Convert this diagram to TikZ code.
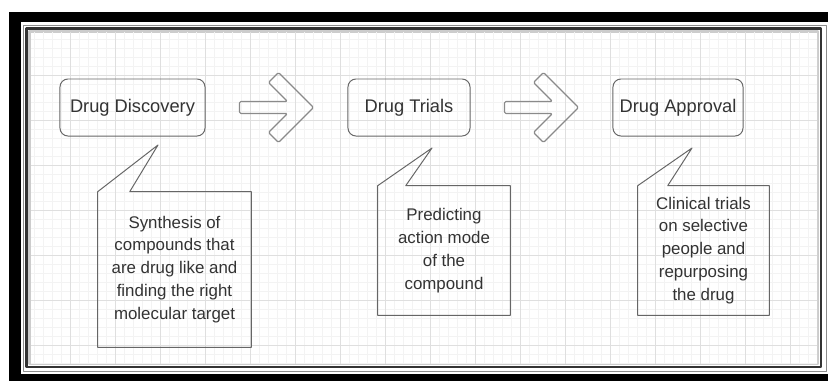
\documentclass[tikz,border=0pt]{standalone}
\usepackage{fontspec}
\setmainfont{Liberation Sans}
\usetikzlibrary{calc}

\definecolor{inkgray}{HTML}{333333}
\definecolor{linegray}{HTML}{666666}
\definecolor{arrowgray}{HTML}{8A8A8A}
\definecolor{minorgray}{HTML}{F3F3F3}
\definecolor{majorgray}{HTML}{DFDFDF}

\begin{document}
\begin{tikzpicture}[x=0.025cm, y=-0.025cm, line join=round,
stage/.style={draw=linegray, line width=0.7pt, rounded corners=0.2cm, minimum height=1.425cm, text=inkgray, font=\fontsize{13}{16.3}\selectfont, inner sep=0pt},
note/.style={align=center, text=inkgray, font=\fontsize{12}{16.3}\selectfont, inner sep=0pt},
notebox/.style={draw=linegray, line width=0.7pt},
chevronline/.style={draw=arrowgray, line width=0.8pt, rounded corners=1pt},
pics/chevron/.style={code={
    \draw[chevronline] (11,-6) -- (-8,-25) -- (2,-35) -- (37,0) -- (2,35) -- (-8,25) -- (11,6) -- (-37,6) -- (-37,-6) -- cycle;
}}]
    % frame
    \clip (0,0) rectangle (828,381);
    \fill[white] (0,0) rectangle (828,381);
    \fill[black] (9,12) rectangle (850,400);
    \fill[white] (21,22) rectangle (830,374);
    \draw[black!45, line width=0.6pt] (23.5,25) rectangle (826,371.5);
    \draw[inkgray, line width=1.8pt] (26.5,28.5) rectangle (821,367);
    \draw[black!20, line width=1.5pt] (29.5,31.5) rectangle (818,364);
    \begin{scope}
        \clip (31,33) rectangle (817,363);
        \draw[minorgray, step=0.225cm, shift={(25,30)}] (-9,-9) grid (801,342);
        \draw[majorgray, step=1.125cm, shift={(25,30)}] (-45,-45) grid (810,360);
    \end{scope}

    % stages
    \node[stage, minimum width=3.625cm] (disc) at (132.5,107.5) {Drug Discovery};
    \node[stage, minimum width=3.05cm] (trials) at (409,107.5) {Drug Trials};
    \node[stage, minimum width=3.25cm] (approval) at (678,107.5) {Drug Approval};

    \pic at ($(disc.east)!0.5!(trials.west)$) {chevron};
    \pic at ($(trials.east)!0.5!(approval.west)$) {chevron};

    % notes
    \node[note, minimum width=3.825cm, minimum height=3.875cm] (disc_note) at (174.5,269.5)
        {Synthesis of\\compounds that\\are drug like and\\finding the right\\molecular target};
    \node[note, minimum width=3.3cm, minimum height=3.225cm] (trials_note) at (444,250.5)
        {Predicting\\action mode\\of the\\compound};
    \node[note, minimum width=3.275cm, minimum height=3.225cm] (approval_note) at (703.5,250.5)
        {Clinical trials\\on selective\\people and\\repurposing\\the drug};
    \coordinate (disc_tip) at (158,145);
    \coordinate (trials_tip) at (432,148);
    \coordinate (approval_tip) at (692,148);

    \draw[notebox] (disc_note.north west) -- (disc_tip) -- ([xshift=0.8cm]disc_note.north west)
        -- (disc_note.north east) -- (disc_note.south east) -- (disc_note.south west) -- cycle;
    \draw[notebox] (trials_note.north west) -- (trials_tip) -- ([xshift=0.7cm]trials_note.north west)
        -- (trials_note.north east) -- (trials_note.south east) -- (trials_note.south west) -- cycle;
    \draw[notebox] (approval_note.north west) -- (approval_tip) -- ([xshift=0.75cm]approval_note.north west)
        -- (approval_note.north east) -- (approval_note.south east) -- (approval_note.south west) -- cycle;
\end{tikzpicture}
\end{document}
